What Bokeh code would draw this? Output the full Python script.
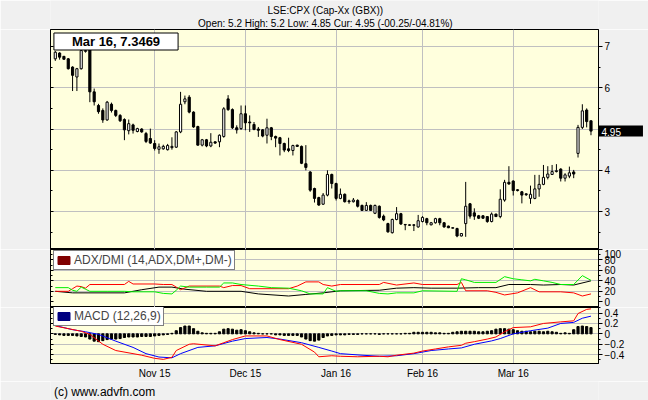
from bokeh.plotting import figure
from bokeh.models import (Range1d, LinearAxis, FixedTicker, Label, Legend, LegendItem,
                          ColumnDataSource)
from bokeh.layouts import column
from bokeh.embed import file_html
from bokeh.resources import INLINE
from bokeh.core.properties import value

# ---------------- data ----------------
title_main = "LSE:CPX (Cap-Xx (GBX))"
title_sub = "Open: 5.2 High: 5.2 Low: 4.85 Cur: 4.95 (-00.25/-04.81%)"
cursor_text = "Mar 16, 7.3469"
last_price = 4.95
footer_text = "(c) www.advfn.com"
adx_label = "ADX/DMI (14,ADX,DM+,DM-)"
macd_label = "MACD (12,26,9)"

month_idx = [23, 44, 65, 85, 106]
month_lbl = ["Nov 15", "Dec 15", "Jan 16", "Feb 16", "Mar 16"]

opens = [6.70, 6.84, 6.76, 6.70, 6.50, 6.26, 6.46, 6.88, 7.02, 5.90,
         5.57, 5.45, 5.22, 5.60, 5.45, 5.33, 5.23, 4.96, 5.10, 4.94,
         5.00, 4.89, 4.77, 4.65, 4.51, 4.52, 4.50, 4.55, 4.56, 4.93,
         5.66, 5.77, 5.41, 5.06, 4.61, 4.74, 4.59, 4.69, 4.69, 4.82,
         5.73, 5.47, 5.03, 5.01, 5.37, 5.17, 5.11, 5.00, 4.98, 4.85,
         5.03, 4.82, 4.79, 4.65, 4.52, 4.48, 4.61, 4.58, 4.16, 3.96,
         3.56, 3.34, 3.18, 3.40, 3.90, 3.68, 3.32, 3.42, 3.26, 3.24,
         3.27, 3.15, 3.03, 3.15, 2.96, 3.13, 2.89, 2.71, 2.49, 2.81,
         2.95, 2.69, 2.68, 2.68, 2.63, 2.76, 2.83, 2.68, 2.73, 2.83,
         2.73, 2.65, 2.61, 2.59, 2.41, 2.71, 3.19, 2.97, 2.90, 2.90,
         2.88, 2.76, 2.94, 2.88, 3.28, 3.71, 3.74, 3.53, 3.48, 3.43,
         3.32, 3.32, 3.55, 3.66, 3.83, 3.90, 3.97, 4.03, 3.81, 3.86,
         3.96, 4.41, 5.04, 5.46, 5.20]
highs = [6.89, 6.86, 6.77, 6.72, 6.52, 6.48, 7.00, 6.95, 7.05, 5.98,
         5.61, 5.50, 5.68, 5.64, 5.47, 5.36, 5.26, 5.23, 5.13, 5.03,
         5.02, 4.93, 5.01, 4.73, 4.65, 4.62, 4.64, 4.80, 4.95, 5.90,
         5.81, 5.82, 5.43, 5.08, 4.76, 4.76, 4.90, 4.70, 4.87, 5.53,
         5.82, 5.50, 5.09, 5.57, 5.57, 5.33, 5.17, 5.05, 5.00, 5.25,
         5.05, 4.84, 4.81, 4.67, 4.79, 4.62, 4.62, 4.60, 4.61, 3.98,
         3.58, 3.36, 3.45, 4.00, 3.92, 3.70, 3.56, 3.44, 3.29, 3.33,
         3.30, 3.17, 3.23, 3.17, 3.17, 3.15, 2.93, 2.73, 2.83, 3.11,
         2.97, 2.70, 2.69, 2.69, 2.92, 2.89, 2.85, 2.75, 2.85, 2.85,
         2.75, 2.66, 2.61, 2.61, 2.48, 3.72, 3.21, 3.08, 2.92, 2.91,
         2.89, 2.98, 2.95, 3.54, 3.77, 4.10, 3.76, 3.54, 3.50, 3.44,
         3.63, 3.89, 3.89, 4.13, 4.10, 4.13, 4.15, 4.05, 3.93, 4.09,
         4.01, 5.10, 5.60, 5.50, 5.20]
lows = [6.65, 6.68, 6.68, 6.44, 5.92, 5.92, 6.44, 6.85, 5.65, 5.57,
        5.37, 5.15, 5.20, 5.40, 5.29, 5.17, 4.73, 4.87, 4.89, 4.92,
        4.91, 4.66, 4.64, 4.48, 4.40, 4.50, 4.48, 4.50, 4.54, 4.90,
        5.60, 5.38, 5.03, 4.60, 4.58, 4.56, 4.56, 4.64, 4.56, 4.79,
        5.44, 5.00, 4.89, 4.98, 4.97, 4.93, 4.97, 4.81, 4.80, 4.65,
        4.73, 4.56, 4.36, 4.44, 4.44, 4.36, 4.57, 4.15, 4.00, 3.48,
        3.22, 3.14, 3.16, 3.37, 3.56, 3.27, 3.30, 3.22, 3.19, 3.22,
        3.10, 3.02, 3.02, 3.02, 2.94, 2.83, 2.77, 2.49, 2.47, 2.79,
        2.68, 2.55, 2.66, 2.53, 2.61, 2.74, 2.67, 2.67, 2.71, 2.67,
        2.61, 2.60, 2.60, 2.38, 2.40, 2.39, 2.83, 2.80, 2.82, 2.83,
        2.73, 2.74, 2.87, 2.84, 3.24, 3.65, 3.39, 3.49, 3.20, 3.38,
        3.19, 3.30, 3.36, 3.64, 3.78, 3.89, 3.95, 3.73, 3.73, 3.81,
        3.81, 4.31, 5.00, 5.04, 4.85]
closes = [6.86, 6.74, 6.69, 6.46, 6.30, 6.46, 6.90, 6.90, 5.90, 5.66,
          5.42, 5.22, 5.65, 5.45, 5.33, 5.20, 4.98, 5.13, 4.97, 5.01,
          4.93, 4.70, 4.66, 4.53, 4.57, 4.58, 4.60, 4.58, 4.93, 5.60,
          5.73, 5.41, 5.05, 4.61, 4.74, 4.59, 4.68, 4.66, 4.85, 5.49,
          5.47, 5.03, 4.98, 5.37, 5.15, 5.15, 4.99, 4.97, 4.83, 5.03,
          4.82, 4.78, 4.65, 4.49, 4.48, 4.60, 4.58, 4.17, 4.07, 3.52,
          3.32, 3.16, 3.40, 3.90, 3.68, 3.32, 3.42, 3.24, 3.24, 3.28,
          3.13, 3.03, 3.15, 3.03, 3.15, 2.86, 2.80, 2.51, 2.81, 2.95,
          2.70, 2.68, 2.67, 2.67, 2.78, 2.86, 2.73, 2.73, 2.83, 2.73,
          2.63, 2.61, 2.60, 2.41, 2.47, 3.13, 2.89, 2.89, 2.84, 2.84,
          2.76, 2.94, 2.88, 3.30, 3.71, 3.67, 3.51, 3.51, 3.40, 3.41,
          3.42, 3.55, 3.66, 3.83, 3.91, 3.97, 3.99, 3.81, 3.89, 3.94,
          3.91, 5.04, 5.44, 5.18, 4.95]

# ADX / DMI lines (day index, value)
dmp_idx = [0, 3, 4, 5, 6, 7, 8, 12, 16, 18, 23, 25, 27, 28, 29, 31, 35, 38, 39, 41,
           43, 47, 50, 54, 57, 59, 62, 63, 65, 66, 72, 75, 77, 79, 83, 85, 93, 94, 95, 97,
           102, 104, 106, 108, 110, 111, 113, 115, 117, 120, 122, 124]
dmp_val = [27, 27, 22, 20, 28, 24, 20, 20, 20, 19, 19, 16, 15, 22, 30, 28, 28, 28, 36, 36,
           33, 30, 27, 26, 21, 15, 15, 27, 20, 21, 21, 16, 15, 17, 17, 21, 20, 44, 42, 37,
           37, 48, 44, 42, 40, 43, 40, 37, 33, 33, 50, 41]
dmm_idx = [0, 3, 4, 5, 6, 7, 8, 16, 17, 18, 23, 25, 27, 28, 29, 31, 38, 39, 41, 43,
           45, 54, 56, 58, 61, 62, 64, 66, 75, 76, 79, 83, 85, 93, 94, 95, 100, 102, 104, 107,
           110, 112, 117, 120, 122, 124]
dmm_val = [20, 20, 25, 30, 29, 26, 33, 33, 39, 34, 34, 33, 33, 28, 23, 30, 30, 27, 31, 31,
           25, 25, 30, 38, 38, 33, 30, 33, 33, 37, 32, 36, 33, 33, 37, 21, 21, 18, 13, 17,
           27, 19, 19, 17, 11, 15]
adx_idx = [0, 4, 16, 20, 24, 27, 30, 35, 43, 47, 54, 58, 62, 65, 66, 75, 79, 83, 87, 93,
           98, 102, 105, 110, 113, 117, 120, 124]
adx_val = [20, 17, 17, 23, 28, 28, 24, 20, 20, 15, 11, 14, 17, 20, 21, 22, 26, 27, 26, 26,
           27, 27, 33, 33, 32, 33, 32, 40]

# MACD (12,26,9)
macd_idx = [0, 6, 8, 11, 14, 20, 23, 25, 27, 28, 31, 32, 37, 39, 41, 44, 49, 52, 57, 60,
            61, 64, 66, 70, 75, 77, 79, 83, 85, 88, 91, 94, 95, 97, 100, 102, 104, 106, 110, 113,
            117, 120, 121, 123, 124]
macd_val = [0.15, 0.05, -0.01, -0.20, -0.32, -0.41, -0.47, -0.49, -0.45, -0.32,
            -0.20, -0.19, -0.23, -0.17, -0.11, -0.04, -0.04, -0.11, -0.20, -0.35,
            -0.44, -0.42, -0.43, -0.44, -0.43, -0.44, -0.41, -0.37, -0.33, -0.29,
            -0.25, -0.22, -0.18, -0.15, -0.10, -0.06, 0.04, 0.12, 0.135, 0.20,
            0.23, 0.25, 0.39, 0.47, 0.48]
sig_idx = [0, 4, 7, 10, 14, 18, 21, 24, 27, 29, 33, 37, 41, 44, 49, 52, 57, 61, 64, 66,
           71, 75, 79, 83, 87, 91, 94, 97, 101, 103, 106, 110, 114, 117, 120, 122, 124]
sig_val = [0.16, 0.08, 0.04, -0.01, -0.14, -0.26, -0.38, -0.445, -0.46, -0.38,
           -0.26, -0.23, -0.14, -0.09, -0.07, -0.10, -0.17, -0.26, -0.33, -0.38,
           -0.41, -0.43, -0.42, -0.38, -0.32, -0.29, -0.27, -0.20, -0.135, -0.09,
           0.0, 0.06, 0.11, 0.20, 0.22, 0.30, 0.34]
hist = [-0.01, -0.02, -0.03, -0.03, -0.03, -0.04, -0.05, -0.06, -0.10, -0.14,
        -0.15, -0.13, -0.11, -0.10, -0.10, -0.09, -0.07, -0.06, -0.06, -0.06,
        -0.05, -0.05, -0.05, -0.04, -0.03, -0.02, -0.01, 0.01, 0.06, 0.12,
        0.15, 0.15, 0.10, 0.05, 0.02, 0.01, 0.01, 0.01, 0.04, 0.09,
        0.10, 0.09, 0.07, 0.08, 0.06, 0.04, 0.02, 0.01, 0.00, 0.00,
        0.00, -0.02, -0.02, -0.03, -0.03, -0.03, -0.03, -0.06, -0.10, -0.13,
        -0.14, -0.12, -0.07, -0.04, -0.03, -0.02, -0.02, -0.02, -0.01, -0.01,
        -0.01, 0.00, 0.00, 0.00, 0.00, -0.01, 0.00, 0.00, 0.00, 0.00,
        0.00, 0.01, 0.01, 0.03, 0.03, 0.03, 0.03, 0.03, 0.02, 0.02,
        0.01, 0.01, 0.03, 0.04, 0.05, 0.05, 0.05, 0.05, 0.04, 0.04,
        0.05, 0.06, 0.09, 0.10, 0.10, 0.09, 0.08, 0.06, 0.05, 0.05,
        0.04, 0.05, 0.05, 0.04, 0.05, 0.04, 0.03, 0.01, 0.02, 0.01,
        0.08, 0.14, 0.15, 0.14, 0.12]

# ---------------- styling / layout ----------------
FONT = "Liberation Sans"
BG = "#ffffdd"
OUTER = "#f0f0f0"
GRID = "#c0c0c0"

W = 648
ML, MR = 50, 50
FRAME_W = W - ML - MR          # 548
H_HEAD = 29
H_MAIN, H_ADX, H_MACD = 220, 58, 58
H_XAX = 16
H_FOOT = 400 - H_HEAD - H_MAIN - H_ADX - H_MACD - H_XAX   # 19

X0, X1 = -1.11, 125.74
xr = Range1d(X0, X1)
PXX = FRAME_W / (X1 - X0)


def dx(page_x):
    return X0 + (page_x - ML) / PXX


def strip_fig(h):
    p = figure(width=W, height=h, x_range=Range1d(0, W), y_range=Range1d(h, 0),
               output_backend="svg", toolbar_location=None,
               x_axis_location=None, y_axis_location=None,
               min_border_left=0, min_border_right=0, min_border_top=0, min_border_bottom=0,
               background_fill_color=OUTER, border_fill_color=OUTER, outline_line_color=None)
    p.xgrid.visible = False
    p.ygrid.visible = False
    return p


def base_fig(h, bottom, yr):
    p = figure(width=W, height=h, x_range=xr, y_range=yr, output_backend="svg",
               toolbar_location=None, x_axis_location=None, y_axis_location="right",
               min_border_left=ML, min_border_right=MR, min_border_top=0,
               min_border_bottom=bottom, background_fill_color=BG,
               border_fill_color=OUTER, outline_line_color="black", outline_line_width=1)
    p.xgrid.ticker = FixedTicker(ticks=month_idx)
    p.xgrid.grid_line_color = GRID
    p.ygrid.grid_line_color = GRID
    return p


def style_right(ax, ticks, minor, overrides=None):
    ax.ticker = FixedTicker(ticks=ticks, minor_ticks=minor)
    ax.major_tick_in = 0
    ax.major_tick_out = 4
    ax.minor_tick_in = 0
    ax.minor_tick_out = 2
    ax.axis_line_color = "black"
    ax.major_tick_line_color = "black"
    ax.minor_tick_line_color = "black"
    ax.major_label_text_font = FONT
    ax.major_label_text_font_size = "10px"
    ax.major_label_text_color = "black"
    ax.major_label_standoff = 2
    if overrides:
        ax.major_label_overrides = overrides


def add_left(p, ticks, minor):
    la = LinearAxis(ticker=FixedTicker(ticks=ticks, minor_ticks=minor),
                    major_tick_in=3, major_tick_out=0, minor_tick_in=2, minor_tick_out=0,
                    major_label_overrides={t: "" for t in ticks},
                    major_label_standoff=0, axis_line_color="black")
    p.add_layout(la, "left")


def make_legend(p, text, color):
    nan = float("nan")
    dummy = p.quad(left=[nan], right=[nan], top=[nan], bottom=[nan],
                   fill_color=color, line_color=color)
    leg = Legend(items=[LegendItem(label=value(text), renderers=[dummy])],
                 location=(3, 37), padding=2, margin=0, spacing=0,
                 glyph_width=15, glyph_height=10, label_height=12, label_width=10,
                 label_standoff=3, label_text_font=FONT, label_text_font_size="12px",
                 border_line_color="black", border_line_width=1,
                 background_fill_color="white", background_fill_alpha=1.0)
    p.add_layout(leg)


# ---------- header (title lines) ----------
p0 = strip_fig(H_HEAD)
p0.add_layout(Label(x=325, y=10, text=title_main, text_align="center",
                    text_baseline="middle", text_font=FONT, text_font_size="10px",
                    text_color="black"))
p0.add_layout(Label(x=325, y=23, text=title_sub, text_align="center",
                    text_baseline="middle", text_font=FONT, text_font_size="10px",
                    text_color="black"))

# ---------- price panel ----------
Y0, Y1 = 2.083, 7.41
PYM = H_MAIN / (Y1 - Y0)


def py(page_y):
    return Y1 + (H_HEAD - page_y) / PYM


p1 = base_fig(H_MAIN, 0, Range1d(Y0, Y1))
style_right(p1.yaxis[0], [3, 4, 5, 6, 7], [2.5, 3.5, 4.5, 5.5, 6.5], {5: ""})
p1.ygrid.ticker = FixedTicker(ticks=[3, 4, 5, 6, 7])
add_left(p1, [3, 4, 5, 6, 7], [2.5, 3.5, 4.5, 5.5, 6.5])

n = len(opens)
src = ColumnDataSource(dict(
    x=list(range(n)), o=opens, h=highs, l=lows, c=closes,
    top=[max(a, b) for a, b in zip(opens, closes)],
    bot=[min(a, b) for a, b in zip(opens, closes)],
    fill=["white" if c >= o else "black" for o, c in zip(opens, closes)],
))
p1.segment(x0="x", y0="l", x1="x", y1="h", source=src, line_color="black", line_width=1)
p1.vbar(x="x", top="top", bottom="bot", width=0.5, source=src,
        fill_color="fill", line_color="black", line_width=1)

p1.add_layout(Label(x=dx(115.5), y=py(41), text=cursor_text, text_align="center",
                    text_baseline="middle", text_font=FONT, text_font_size="13px",
                    text_font_style="bold", text_color="black",
                    background_fill_color="white", border_line_color="black",
                    border_line_width=1,
                    padding=dict(left=18, right=18, top=1, bottom=1)))
# current-price tag drawn just right of the frame; it is hosted in the (roomy) left side
# panel so that it is not clipped to the frame and does not widen the right border
p1.add_layout(Label(x=X1, y=last_price, text="%.2f" % last_price, text_align="left",
                    text_baseline="middle", text_font=FONT, text_font_size="10px",
                    text_color="white", background_fill_color="black",
                    padding=dict(left=3, right=22, top=2, bottom=1)), "left")

# ---------- ADX panel ----------
p2 = base_fig(H_ADX, 0, Range1d(-11.0, 100.0))
style_right(p2.yaxis[0], [0, 20, 40, 60, 80, 100], [10, 30, 50, 70, 90])
p2.ygrid.ticker = FixedTicker(ticks=[20, 40, 60, 80])
add_left(p2, [0, 20, 40, 60, 80, 100], [10, 30, 50, 70, 90])
p2.line(adx_idx, adx_val, line_color="black", line_width=1)
p2.line(dmm_idx, dmm_val, line_color="#ff0000", line_width=1)
p2.line(dmp_idx, dmp_val, line_color="#00ee00", line_width=1)
make_legend(p2, adx_label, "#800000")

# ---------- MACD panel ----------
p3 = base_fig(H_MACD + H_XAX, H_XAX, Range1d(-0.569, 0.506))
style_right(p3.yaxis[0], [-0.4, -0.2, 0, 0.2, 0.4], [-0.5, -0.3, -0.1, 0.1, 0.3, 0.5])
p3.ygrid.ticker = FixedTicker(ticks=[-0.4, -0.2, 0, 0.2, 0.4])
add_left(p3, [-0.4, -0.2, 0, 0.2, 0.4], [-0.5, -0.3, -0.1, 0.1, 0.3, 0.5])
hsrc = ColumnDataSource(dict(x=list(range(len(hist))),
                             top=[max(v, 0) for v in hist],
                             bot=[min(v, 0) for v in hist]))
p3.vbar(x="x", top="top", bottom="bot", width=0.5, source=hsrc,
        fill_color="black", line_color="black", line_width=1)
p3.line(sig_idx, sig_val, line_color="#0000ff", line_width=1)
p3.line(macd_idx, macd_val, line_color="#ff0000", line_width=1)
make_legend(p3, macd_label, "#000080")

xa = LinearAxis(ticker=FixedTicker(ticks=month_idx),
                major_label_overrides=dict(zip(month_idx, month_lbl)),
                major_tick_in=0, major_tick_out=0, minor_tick_in=0, minor_tick_out=0,
                major_label_standoff=4, axis_line_color="black",
                major_label_text_font=FONT, major_label_text_font_size="10px",
                major_label_text_color="black")
p3.add_layout(xa, "below")

# ---------- footer ----------
p4 = strip_fig(H_FOOT)
p4.add_layout(Label(x=4, y=10, text=footer_text, text_align="left",
                    text_baseline="middle", text_font=FONT, text_font_size="12px",
                    text_color="black"))

layout = column(p0, p1, p2, p3, p4, spacing=0)
open("out.html", "w").write(file_html(layout, INLINE))
